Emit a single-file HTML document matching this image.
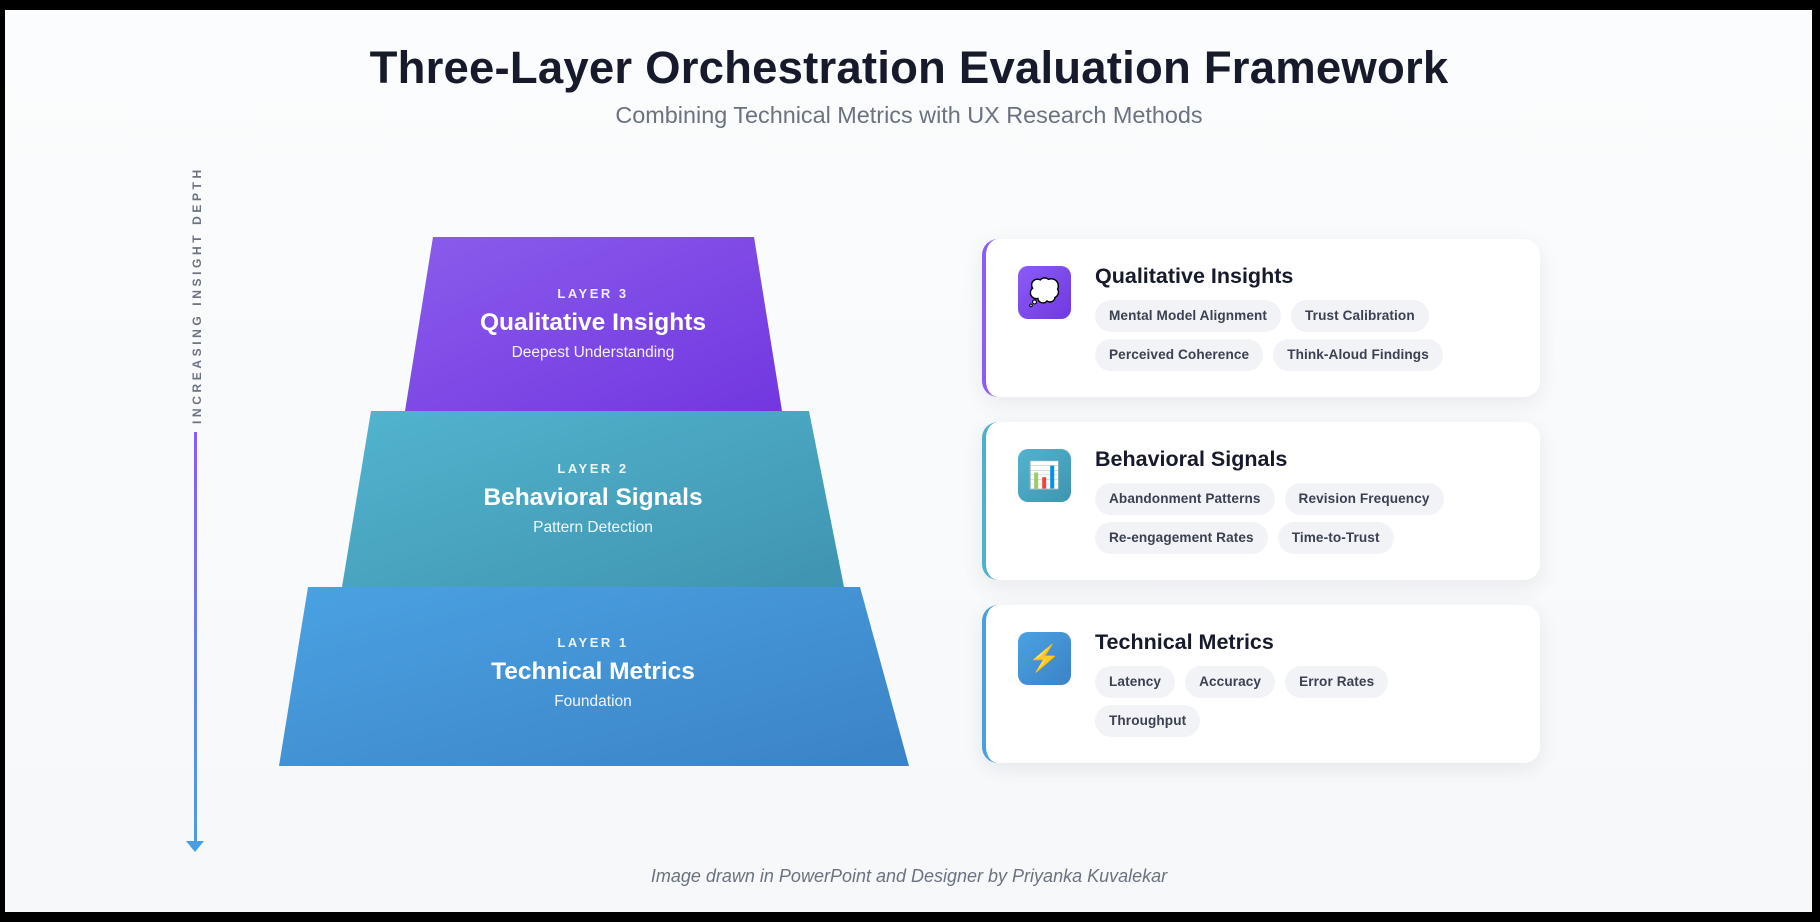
<!DOCTYPE html>
<html><head><meta charset="utf-8">
<style>
*{margin:0;padding:0;box-sizing:border-box}
html,body{width:1820px;height:922px;overflow:hidden;background:#000}
#page{position:absolute;left:5px;top:10px;width:1807px;height:902px;background:linear-gradient(180deg,#fbfcfd,#f6f8fa);font-family:"Liberation Sans",sans-serif;overflow:hidden}
.abs{position:absolute}
h1{position:absolute;left:0;width:1808px;text-align:center;top:32px;font-size:45.5px;font-weight:bold;color:#161a2b;letter-spacing:0.2px}
.sub{position:absolute;left:0;width:1808px;text-align:center;top:92px;font-size:23.4px;color:#6b7280}
.vt{position:absolute;left:185px;top:414px;transform-origin:0 0;transform:rotate(-90deg);font-size:12px;font-weight:bold;letter-spacing:3.6px;color:#6b7280;white-space:nowrap}
.lt{position:absolute;width:400px;text-align:center;color:#fff}
.lt .a{font-size:13px;font-weight:bold;letter-spacing:2.5px;opacity:.9}
.lt .b{font-size:24.5px;font-weight:bold;margin-top:8px}
.lt .c{font-size:15.5px;margin-top:7px;opacity:.92}
.card{position:absolute;left:977px;width:558px;height:158px;background:#fff;border-radius:16px;border-left:4px solid;box-shadow:0 6px 22px rgba(30,40,60,.08)}
.icon{position:absolute;left:32px;top:27px;width:53px;height:53px;border-radius:10px;display:flex;align-items:center;justify-content:center;font-size:26px}
.ct{position:absolute;left:109px;top:25px;font-size:21.5px;font-weight:bold;color:#161a2b}
.tags{position:absolute;left:109px;top:61px;width:420px}
.tag{display:inline-block;height:32px;line-height:32px;padding:0 14px;margin:0 10px 7px 0;background:#f1f3f6;border-radius:16px;font-size:13.6px;font-weight:bold;color:#3b4150;letter-spacing:.1px}
.foot{position:absolute;left:0;width:1808px;text-align:center;top:856px;font-size:18px;font-style:italic;color:#6b7280}
</style></head><body>
<div id="page">
<h1>Three-Layer Orchestration Evaluation Framework</h1>
<div class="sub">Combining Technical Metrics with UX Research Methods</div>
<div class="vt">INCREASING INSIGHT DEPTH</div>
<svg class="abs" style="left:0;top:0" width="1808" height="902">
<defs>
<linearGradient id="g3" x1="0" y1="0" x2="1" y2="1"><stop offset="0" stop-color="#8a5cec"/><stop offset="1" stop-color="#7237e0"/></linearGradient>
<linearGradient id="g2" x1="0" y1="0" x2="1" y2="1"><stop offset="0" stop-color="#52b4cf"/><stop offset="1" stop-color="#3f94b0"/></linearGradient>
<linearGradient id="g1" x1="0" y1="0" x2="1" y2="1"><stop offset="0" stop-color="#4aa2e2"/><stop offset="1" stop-color="#3b82c6"/></linearGradient>
<linearGradient id="ga" x1="0" y1="0" x2="0" y2="1"><stop offset="0" stop-color="#8b5cf6"/><stop offset="1" stop-color="#4a9fe0"/></linearGradient>
</defs>
<rect x="189" y="422" width="3" height="410" fill="url(#ga)"/>
<polygon points="181,831 199,831 190,842" fill="#4a9fe0"/>
<polygon points="303,577 855,577 904,756 274,756" fill="url(#g1)"/>
<polygon points="366,401 804,401 839,577 337,577" fill="url(#g2)"/>
<polygon points="428,227 749,227 777,401 400,401" fill="url(#g3)"/>
</svg>
<div class="lt" style="left:388px;top:276px"><div class="a">LAYER 3</div><div class="b">Qualitative Insights</div><div class="c">Deepest Understanding</div></div>
<div class="lt" style="left:388px;top:451px"><div class="a">LAYER 2</div><div class="b">Behavioral Signals</div><div class="c">Pattern Detection</div></div>
<div class="lt" style="left:388px;top:625px"><div class="a">LAYER 1</div><div class="b">Technical Metrics</div><div class="c">Foundation</div></div>

<div class="card" style="top:229px;border-color:#8b5cf6">
<div class="icon" style="background:linear-gradient(135deg,#8b5cf6,#7038e0);color:#fff">💭</div>
<div class="ct">Qualitative Insights</div>
<div class="tags"><span class="tag">Mental Model Alignment</span><span class="tag">Trust Calibration</span><br><span class="tag">Perceived Coherence</span><span class="tag">Think-Aloud Findings</span></div>
</div>
<div class="card" style="top:412px;border-color:#4fb0cc">
<div class="icon" style="background:linear-gradient(135deg,#52b4cf,#3f94b0)">📊</div>
<div class="ct">Behavioral Signals</div>
<div class="tags"><span class="tag">Abandonment Patterns</span><span class="tag">Revision Frequency</span><br><span class="tag">Re-engagement Rates</span><span class="tag">Time-to-Trust</span></div>
</div>
<div class="card" style="top:595px;border-color:#4a9fe0">
<div class="icon" style="background:linear-gradient(135deg,#4aa2e2,#3b82c6);color:#f5c518">⚡</div>
<div class="ct">Technical Metrics</div>
<div class="tags"><span class="tag">Latency</span><span class="tag">Accuracy</span><span class="tag">Error Rates</span><br><span class="tag">Throughput</span></div>
</div>
<div class="foot">Image drawn in PowerPoint and Designer by Priyanka Kuvalekar</div>
</div>
</body></html>
